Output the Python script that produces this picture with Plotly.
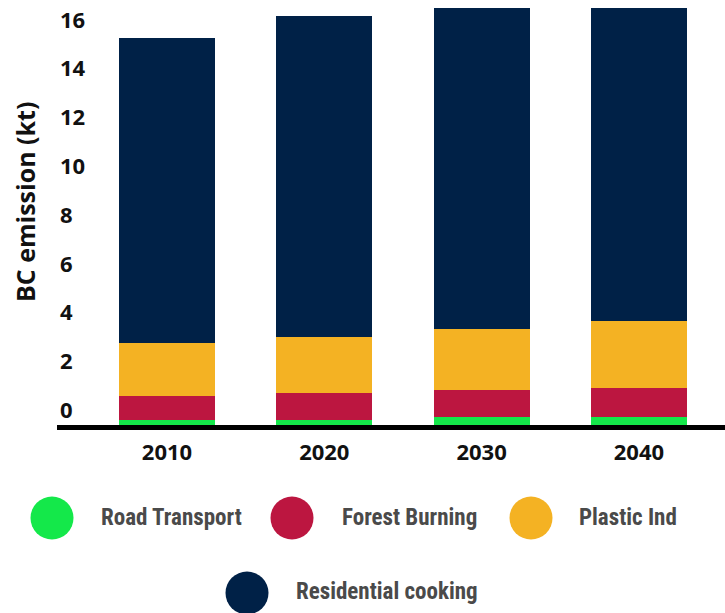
import plotly.graph_objects as go

# Black carbon emissions by source (kt), stacked per year
years = ["2010", "2020", "2030", "2040"]
road_transport = [0.20, 0.20, 0.33, 0.33]
forest_burning = [0.99, 1.11, 1.10, 1.19]
plastic_ind = [2.18, 2.30, 2.50, 2.74]
residential_cooking = [12.49, 13.15, 13.60, 13.75]

series_names = ["Road Transport", "Forest Burning", "Plastic Ind", "Residential cooking"]
series_values = [road_transport, forest_burning, plastic_ind, residential_cooking]
series_colors = ["#14E84A", "#BC1640", "#F4B223", "#002147"]

y_ticks = [0, 2, 4, 6, 8, 10, 12, 14, 16]

W, H = 725, 613
ML, MR, MT, MB = 57, 0, 8, 188
PW, PH = W - ML - MR, H - MT - MB

AXIS_FONT = dict(family="Open Sans, sans-serif", size=22, color="#111111", weight="bold")


def px_to_paper(px, py):
    return (px - ML) / PW, (H - MB - py) / PH


fig = go.Figure()
for name, vals, col in zip(series_names, series_values, series_colors):
    fig.add_trace(go.Bar(x=years, y=vals, name=name, marker=dict(color=col, line=dict(width=0)),
                         showlegend=False))

fig.update_layout(
    width=W, height=H,
    margin=dict(l=ML, r=MR, t=MT, b=MB, pad=0),
    barmode="stack", bargap=0.39,
    plot_bgcolor="white", paper_bgcolor="white",
    font=dict(family="Open Sans, sans-serif", color="#000000"),
    xaxis=dict(
        type="category", range=[-0.699, 3.547],
        showline=True, linecolor="#000000", linewidth=5,
        showgrid=False, ticks="", zeroline=False,
        tickfont=AXIS_FONT,
        ticklabelstandoff=4,
    ),
    yaxis=dict(
        range=[0, 17.09], tickvals=y_ticks,
        showline=False, showgrid=False, zeroline=False, ticks="",
        showticklabels=False,
    ),
)

# Y tick labels sit just above their tick values, inside the plot's left edge
for v in y_ticks:
    fig.add_annotation(x=0.0015, y=v, xref="paper", yref="y", text=str(v),
                       showarrow=False, xanchor="left", yanchor="middle", yshift=16,
                       font=AXIS_FONT)

# Y-axis title
tx, ty = px_to_paper(25, 202)
fig.add_annotation(x=tx, y=ty, xref="paper", yref="paper", text="BC emission (kt)",
                   textangle=-90, showarrow=False, xanchor="center", yanchor="middle",
                   font=dict(AXIS_FONT, size=25))

# Legend: large circular swatches with labels
legend_items = [
    (0, 52, 518, 99),
    (1, 292, 518, 340),
    (2, 531, 518, 577),
    (3, 247, 593, 294),
]
for idx, cx, cy, lx in legend_items:
    ax, ay = px_to_paper(cx, cy)
    fig.add_shape(type="circle", xref="paper", yref="paper",
                  xsizemode="pixel", ysizemode="pixel", xanchor=ax, yanchor=ay,
                  x0=-21.5, x1=21.5, y0=-21.5, y1=21.5,
                  fillcolor=series_colors[idx], line=dict(width=0))
    lxp, lyp = px_to_paper(lx, cy - 1 if idx < 3 else cy - 2)
    fig.add_annotation(x=lxp, y=lyp, xref="paper", yref="paper", text=series_names[idx],
                       showarrow=False, xanchor="left", yanchor="middle",
                       font=dict(family="Liberation Sans Narrow, Roboto Condensed, Roboto, sans-serif",
                                 size=23, color="#4A4A4A", weight="bold"))

fig.write_html("out.html")
